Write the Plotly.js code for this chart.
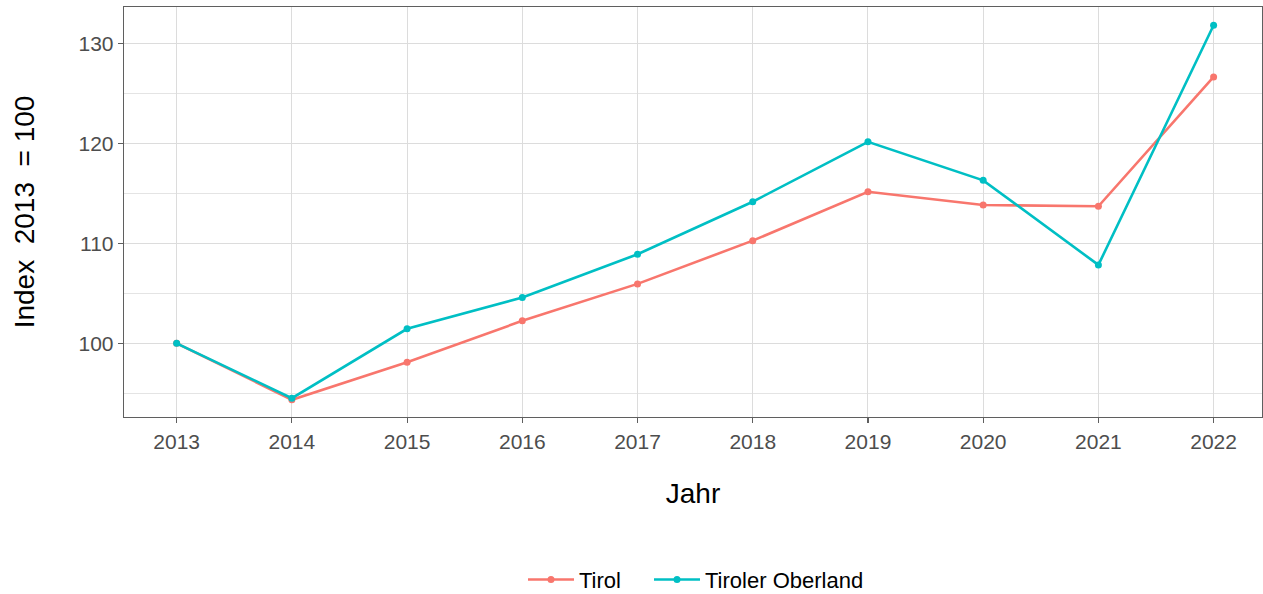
<!DOCTYPE html>
<html>
<head>
<meta charset="utf-8">
<script src="https://cdn.plot.ly/plotly-3.0.1.min.js"></script>
<style>html,body{margin:0;padding:0;background:#fff;}#chart{width:1263px;height:594px;}</style>
</head>
<body>
<div id="chart"></div>
<script>
const years = [2013, 2014, 2015, 2016, 2017, 2018, 2019, 2020, 2021, 2022];
const tirol = [100.0, 94.35, 98.1, 102.25, 105.95, 110.28, 115.18, 113.85, 113.72, 126.68];
const oberland = [100.0, 94.5, 101.45, 104.58, 108.92, 114.18, 120.18, 116.32, 107.85, 131.85];
const seriesNames = ["Tirol", "Tiroler Oberland"];
const yTicks = [100, 110, 120, 130];

const font = "Liberation Sans, Arial, sans-serif";
const traces = [
  {x: years, y: tirol, name: seriesNames[0], mode: "lines+markers", type: "scatter", legend: "legend",
   line: {color: "#F8766D", width: 2.6}, marker: {color: "#F8766D", size: 7}},
  {x: years, y: oberland, name: seriesNames[1], mode: "lines+markers", type: "scatter", legend: "legend2",
   line: {color: "#00BFC4", width: 2.6}, marker: {color: "#00BFC4", size: 7}}
];
const legendBase = {orientation: "h", xanchor: "left", xref: "container",
  y: 0.024, yanchor: "middle", yref: "container", bgcolor: "rgba(0,0,0,0)",
  font: {family: font, size: 22, color: "#000"}, itemwidth: 46};
const layout = {
  width: 1263, height: 594,
  margin: {l: 124, r: 1, t: 7, b: 177},
  paper_bgcolor: "#fff", plot_bgcolor: "#fff",
  showlegend: true,
  legend: Object.assign({}, legendBase, {x: 523 / 1263}),
  legend2: Object.assign({}, legendBase, {x: 649 / 1263}),
  xaxis: {
    range: [2012.543, 2022.42], tickvals: years, ticktext: years.map(String),
    showgrid: true, gridcolor: "#dcdcdc", gridwidth: 1,
    zeroline: false, showline: true, mirror: true, linecolor: "#5f5f5f", linewidth: 1.3,
    ticks: "outside", ticklen: 5, tickcolor: "#5f5f5f", tickwidth: 1.1,
    tickfont: {family: font, size: 21, color: "#4d4d4d"},
    title: {text: "Jahr", font: {family: font, size: 28, color: "#000"}, standoff: 32}
  },
  yaxis: {
    range: [92.62, 133.68], tickvals: yTicks,
    showgrid: true, gridcolor: "#dcdcdc", gridwidth: 1,
    minor: {dtick: 10, tick0: 95, showgrid: true, gridcolor: "#e4e4e4", gridwidth: 1},
    zeroline: false, showline: true, mirror: true, linecolor: "#5f5f5f", linewidth: 1.3,
    ticks: "outside", ticklen: 5, tickcolor: "#5f5f5f", tickwidth: 1.1,
    tickfont: {family: font, size: 21, color: "#4d4d4d"},
    title: {text: "Index\u00A0 2013\u00A0 = 100", font: {family: font, size: 28, color: "#000"}, standoff: 35}
  }
};
Plotly.newPlot("chart", traces, layout, {staticPlot: true, displayModeBar: false});
</script>
</body>
</html>
